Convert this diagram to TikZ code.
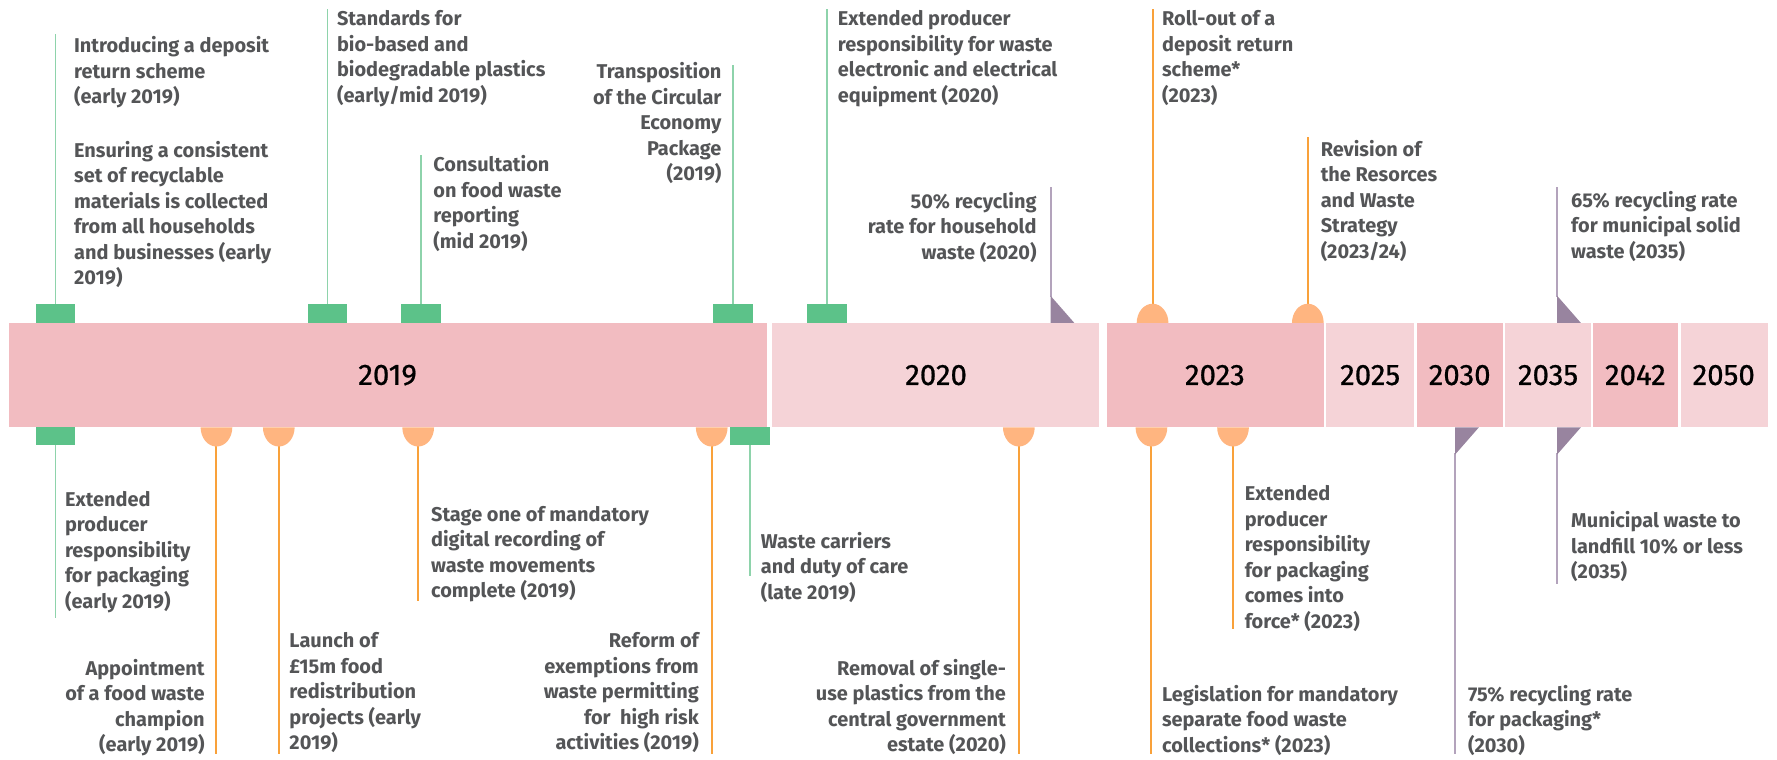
\documentclass[tikz,border=0pt]{standalone}
\usepackage{fontspec}
\setmainfont{Fira Sans}
\newfontfamily\yearfont[FakeBold=0.7]{Fira Sans}
\definecolor{bandD}{HTML}{F2BCC1}
\definecolor{bandL}{HTML}{F5D3D7}
\definecolor{gfill}{HTML}{5CC289}
\definecolor{gline}{HTML}{8ED3AB}
\definecolor{ofill}{HTML}{FFB580}
\definecolor{oline}{HTML}{F9A13A}
\definecolor{pfill}{HTML}{98849F}
\definecolor{pline}{HTML}{B3A3BC}
\definecolor{txtgray}{HTML}{545557}
\tikzset{
  txt/.style={font=\bfseries\fontsize{8.8}{11.25}\selectfont, text=txtgray, inner sep=0pt, align=left, anchor=north west},
  txtr/.style={txt, align=right, anchor=north east},
  yearlbl/.style={font=\yearfont\fontsize{13}{13}\selectfont, text=black, inner sep=0pt},
  gln/.style={draw=gline, line width=0.8pt},
  oln/.style={draw=oline, line width=0.9pt},
  pln/.style={draw=pline, line width=0.9pt},
  gsq/.style={fill=gfill},
}
\begin{document}
\begin{tikzpicture}[x=0.5pt,y=-0.5pt]
\useasboundingbox (0,0) rectangle (1568,670);
% ---------- connector lines (top) ----------
\coordinate (tg1) at (49,268);  \coordinate (tg1e) at (49,30);
\coordinate (tg2) at (289,268); \coordinate (tg2e) at (289,8);
\coordinate (tg3) at (371.5,268); \coordinate (tg3e) at (371.5,137);
\coordinate (tg4) at (646.5,268); \coordinate (tg4e) at (646.5,57);
\coordinate (tg5) at (729.5,268); \coordinate (tg5e) at (729.5,8);
\coordinate (to1) at (1017,270); \coordinate (to1e) at (1017,8);
\coordinate (to2) at (1154,270); \coordinate (to2e) at (1154,121);
\coordinate (tp1) at (927,262);  \coordinate (tp1e) at (927,165);
\coordinate (tp2) at (1374,262); \coordinate (tp2e) at (1374,165);
\draw[gln] (tg1) -- (tg1e);
\draw[gln] (tg2) -- (tg2e);
\draw[gln] (tg3) -- (tg3e);
\draw[gln] (tg4) -- (tg4e);
\draw[gln] (tg5) -- (tg5e);
\draw[oln] (to1) -- (to1e);
\draw[oln] (to2) -- (to2e);
\draw[pln] (tp1) -- (tp1e);
\draw[pln] (tp2) -- (tp2e);
% ---------- connector lines (bottom) ----------
\coordinate (bg1) at (49,393);  \coordinate (bg1e) at (49,545);
\coordinate (bg2) at (662,393); \coordinate (bg2e) at (662,508);
\coordinate (bo1) at (191,392); \coordinate (bo1e) at (191,665);
\coordinate (bo2) at (246,392); \coordinate (bo2e) at (246,665);
\coordinate (bo3) at (369,392); \coordinate (bo3e) at (369,530);
\coordinate (bo4) at (628,392); \coordinate (bo4e) at (628,665);
\coordinate (bo5) at (899,392); \coordinate (bo5e) at (899,665);
\coordinate (bo6) at (1016,392); \coordinate (bo6e) at (1016,665);
\coordinate (bo7) at (1088,392); \coordinate (bo7e) at (1088,555);
\coordinate (bp1) at (1284,400); \coordinate (bp1e) at (1284,665);
\coordinate (bp2) at (1374,400); \coordinate (bp2e) at (1374,515);
\draw[gln] (bg1) -- (bg1e);
\draw[gln] (bg2) -- (bg2e);
\draw[oln] (bo1) -- (bo1e);
\draw[oln] (bo2) -- (bo2e);
\draw[oln] (bo3) -- (bo3e);
\draw[oln] (bo4) -- (bo4e);
\draw[oln] (bo5) -- (bo5e);
\draw[oln] (bo6) -- (bo6e);
\draw[oln] (bo7) -- (bo7e);
\draw[pln] (bp1) -- (bp1e);
\draw[pln] (bp2) -- (bp2e);
% ---------- band ----------
\fill[bandD] (8,285) rectangle (677,377);
\fill[bandL] (681,285) rectangle (970,377);
\fill[bandD] (977,285) rectangle (1168,377);
\fill[bandL] (1170,285) rectangle (1248,377);
\fill[bandD] (1250,285) rectangle (1326,377);
\fill[bandL] (1328,285) rectangle (1404,377);
\fill[bandD] (1406,285) rectangle (1481,377);
\fill[bandL] (1483,285) rectangle (1560,377);
\node[yearlbl] (y2019) at (342,331) {2019};
\node[yearlbl] (y2020) at (826,331) {2020};
\node[yearlbl] (y2023) at (1072,331) {2023};
\node[yearlbl] (y2025) at (1209,331) {2025};
\node[yearlbl] (y2030) at (1288,331) {2030};
\node[yearlbl] (y2035) at (1366,331) {2035};
\node[yearlbl] (y2042) at (1443,331) {2042};
\node[yearlbl] (y2050) at (1521,331) {2050};
% ---------- markers ----------
\fill[gsq] (31.5,268) rectangle (66.5,285);
\fill[gsq] (271.5,268) rectangle (306.5,285);
\fill[gsq] (354,268) rectangle (389,285);
\fill[gsq] (629,268) rectangle (664,285);
\fill[gsq] (712,268) rectangle (747,285);
\fill[gsq] (31.5,377) rectangle (66.5,393);
\fill[gsq] (644.5,377) rectangle (679.5,393);
% orange half discs
\foreach \cx in {1017,1154}{\fill[ofill] (\cx,285) ++(-7pt,0) arc[start angle=180,end angle=0,x radius=7pt,y radius=8.5pt] -- cycle;}
\foreach \cx in {191,246,369,628,899,1016,1088}{\fill[ofill] (\cx,377) ++(-7pt,0) arc[start angle=180,end angle=360,x radius=7pt,y radius=8.5pt] -- cycle;}
% purple triangles
\fill[pfill] (927,261) -- (927,285) -- (948,285) -- cycle;
\fill[pfill] (1374,261) -- (1374,285) -- (1395,285) -- cycle;
\fill[pfill] (1284,377) -- (1305,377) -- (1284,401) -- cycle;
\fill[pfill] (1374,377) -- (1395,377) -- (1374,401) -- cycle;
% ---------- texts top ----------
\node[txt] (t1) at (65,32) {Introducing a deposit\\return scheme\\(early 2019)};
\node[txt] (t2) at (65,124) {Ensuring a consistent\\set of recyclable\\materials is collected\\from all households\\and businesses (early\\2019)};
\node[txt] (t3) at (297,9) {Standards for\\bio-based and\\biodegradable plastics\\(early/mid 2019)};
\node[txt] (t4) at (382,137) {Consultation\\on food waste\\reporting\\(mid 2019)};
\node[txtr] (t5) at (637,55) {Transposition\\of the Circular\\Economy\\Package\\(2019)};
\node[txt] (t6) at (739,9) {Extended producer\\responsibility for waste\\electronic and electrical\\equipment (2020)};
\node[txtr] (t7) at (915,169) {50\% recycling\\rate for household\\waste (2020)};
\node[txt] (t8) at (1025,9) {Roll-out of a\\deposit return\\scheme*\\(2023)};
\node[txt] (t9) at (1165,123) {Revision of\\the Resorces\\and Waste\\Strategy\\(2023/24)};
\node[txt] (t10) at (1386,168) {65\% recycling rate\\for municipal solid\\waste (2035)};
% ---------- texts bottom ----------
\node[txt] (b1) at (57,433) {Extended\\producer\\responsibility\\for packaging\\(early 2019)};
\node[txtr] (b2) at (181,581) {Appointment\\of a food waste\\champion\\(early 2019)};
\node[txt] (b3) at (255,558) {Launch of\\£15m food\\redistribution\\projects (early\\2019)};
\node[txt] (b4) at (380,446) {Stage one of mandatory\\digital recording of\\waste movements\\complete (2019)};
\node[txtr] (b5) at (617,558) {Reform of\\exemptions from\\waste permitting\\for~ high risk\\activities (2019)};
\node[txt] (b6) at (671,469) {Waste carriers\\and duty of care\\(late 2019)};
\node[txtr] (b7) at (888,581) {Removal of single-\\use plastics from the\\central government\\estate (2020)};
\node[txt] (b8) at (1025,604) {Legislation for mandatory\\separate food waste\\collections* (2023)};
\node[txt] (b9) at (1098,428) {Extended\\producer\\responsibility\\for packaging\\comes into\\force* (2023)};
\node[txt] (b10) at (1295,604) {75\% recycling rate\\for packaging*\\(2030)};
\node[txt] (b11) at (1386,451) {Municipal waste to\\landfill 10\% or less\\(2035)};
\end{tikzpicture}
\end{document}
